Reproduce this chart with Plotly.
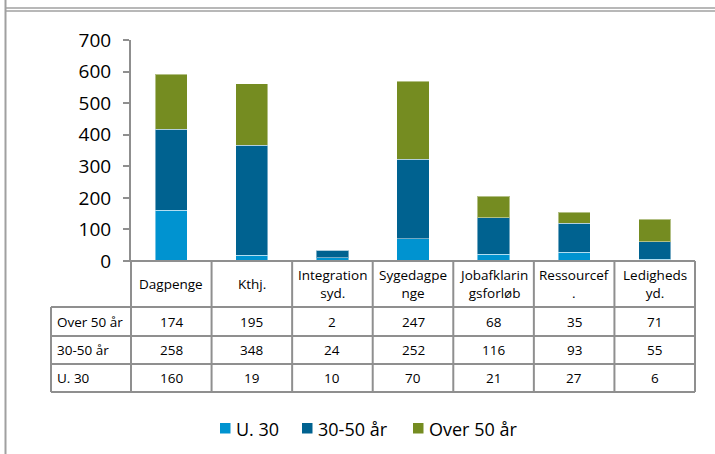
import plotly.graph_objects as go

categories = ["Dagpenge", "Kthj.", "Integration syd.", "Sygedagpenge",
              "Jobafklaringsforløb", "Ressourcef.", "Ledigheds yd."]
header_labels = ["Dagpenge", "Kthj.", "Integration<br>syd.", "Sygedagpe<br>nge",
                 "Jobafklarin<br>gsforløb", "Ressourcef<br>.", "Ledigheds<br>yd."]
u30 = [160, 19, 10, 70, 21, 27, 6]
mid = [258, 348, 24, 252, 116, 93, 55]
over50 = [174, 195, 2, 247, 68, 35, 71]
series_names = ["U. 30", "30-50 år", "Over 50 år"]
series_colors = ["#0093D0", "#006290", "#758C21"]
y_ticks = [0, 100, 200, 300, 400, 500, 600, 700]

W, H = 715, 454
FONT = "Open Sans"
GRAY = "#8f8f8f"

def px(x):
    return x / W

def py(y):
    return 1 - y / H

fig = go.Figure()
for name, vals, col in zip(series_names, [u30, mid, over50], series_colors):
    fig.add_trace(go.Bar(
        x=list(range(len(categories))), y=vals, name=name,
        marker=dict(color=col, line=dict(color="rgba(255,255,255,0.45)", width=1)),
        width=0.4, showlegend=False,
    ))

x0, x1 = 131, 695
col_w = (x1 - x0) / len(categories)
y_top, y_head, rows_y = 261, 307, [307, 336, 364, 392]
label_x = 51

shapes = []
def line(xa, ya, xb, yb, w=2, c=GRAY):
    shapes.append(dict(type="line", xref="paper", yref="paper",
                       x0=px(xa), y0=py(ya), x1=px(xb), y1=py(yb),
                       line=dict(color=c, width=w)))

# data table grid
line(x0 - 6, y_top, x1, y_top)
for i in range(len(categories) + 1):
    xx = x0 + i * col_w
    line(xx, y_top, xx, rows_y[-1])
for yy in rows_y:
    line(label_x, yy, x1, yy)
line(label_x, rows_y[0], label_x, rows_y[-1])

# outer frame
line(5.5, 0, 5.5, H, w=2, c="#a0a0a0")
line(5, 8, W, 8, w=1.5, c="#a0a0a0")
line(5, 11, W, 11, w=1.5, c="#a0a0a0")

annotations = []
TF = dict(family=FONT, size=13.5, color="black")
for i, lab in enumerate(header_labels):
    annotations.append(dict(
        x=px(x0 + (i + 0.5) * col_w), y=py((y_top + y_head) / 2),
        xref="paper", yref="paper", text=lab, showarrow=False,
        xanchor="center", yanchor="middle", font=TF, align="center"))

row_names = ["Over 50 år", "30-50 år", "U. 30"]
row_vals = [over50, mid, u30]
for r, (rn, vals) in enumerate(zip(row_names, row_vals)):
    yc = py((rows_y[r] + rows_y[r + 1]) / 2)
    annotations.append(dict(x=px(label_x + 4), y=yc, xref="paper", yref="paper",
                            text=rn, showarrow=False, xanchor="left", yanchor="middle",
                            font=TF))
    for i, v in enumerate(vals):
        annotations.append(dict(x=px(x0 + (i + 0.5) * col_w), y=yc,
                                xref="paper", yref="paper", text=str(v),
                                showarrow=False, xanchor="center", yanchor="middle",
                                font=TF))

# legend (square + label)
leg_sq_x = [220, 302, 413]
leg_y = 428.5
for sx, name, col in zip(leg_sq_x, series_names, series_colors):
    shapes.append(dict(type="rect", xref="paper", yref="paper",
                       x0=px(sx), x1=px(sx + 10.5), y0=py(leg_y - 5.5), y1=py(leg_y + 5),
                       fillcolor=col, line=dict(width=0)))
    annotations.append(dict(x=px(sx + 14), y=py(leg_y), xref="paper", yref="paper",
                            text=name, showarrow=False, xanchor="left", yanchor="middle",
                            font=dict(family=FONT, size=18, color="black")))

fig.update_layout(
    width=W, height=H, autosize=False,
    margin=dict(l=0, r=0, t=0, b=0, pad=0, autoexpand=False),
    paper_bgcolor="white", plot_bgcolor="white",
    barmode="stack", bargap=0.6,
    showlegend=False,
    xaxis=dict(domain=[px(x0), px(x1)], range=[-0.5, len(categories) - 0.5],
               showticklabels=False, showgrid=False, zeroline=False, showline=False,
               ticks="", fixedrange=True, automargin=False),
    yaxis=dict(domain=[py(y_top), py(40)], range=[0, 700], tickvals=y_ticks,
               showgrid=False, zeroline=False, showline=True, linecolor=GRAY,
               linewidth=2, ticks="outside", ticklen=6, tickcolor=GRAY, tickwidth=2,
               ticklabelstandoff=8, automargin=False, fixedrange=True,
               tickfont=dict(family=FONT, size=19, color="black")),
    shapes=shapes, annotations=annotations,
)

fig.write_html("out.html", config={"displayModeBar": False},
               post_script="document.body.style.margin='0px';")
